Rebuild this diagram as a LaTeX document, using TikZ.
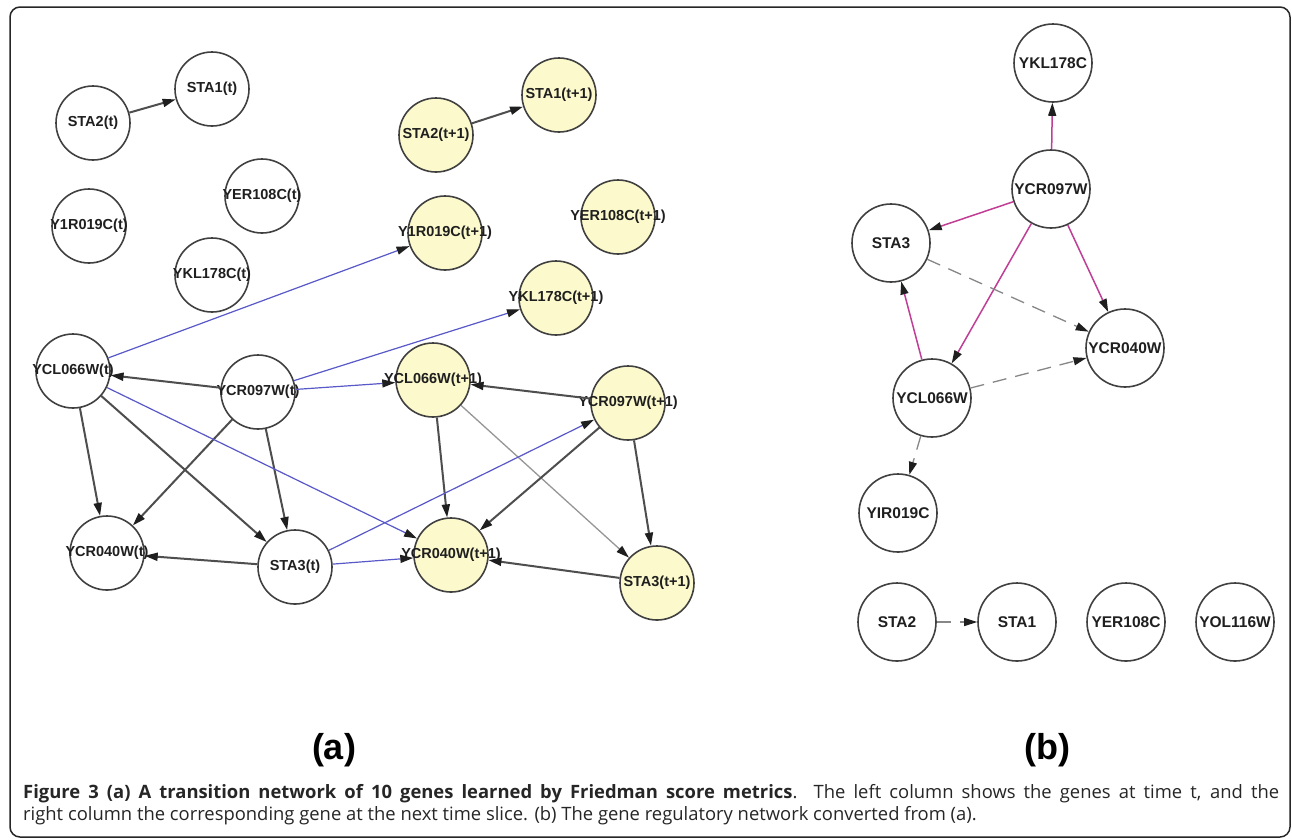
\documentclass[tikz,border=0pt]{standalone}
\usepackage{fontspec}
\setmainfont{Liberation Sans}
\newfontfamily\capfont{Open Sans}
\usetikzlibrary{arrows.meta}
\definecolor{nodeline}{RGB}{64,64,64}
\definecolor{yfill}{RGB}{252,250,204}
\definecolor{edgedark}{RGB}{78,78,78}
\definecolor{edgeblue}{RGB}{88,88,200}
\definecolor{edgemag}{RGB}{192,62,150}
\definecolor{edgelight}{RGB}{150,150,150}
\definecolor{edgedash}{RGB}{135,135,135}
\newcommand{\gl}[1]{\makebox[0pt][c]{#1}}
\begin{document}
\begin{tikzpicture}[x=1pt,y=-1pt,
  gene/.style={circle,draw=nodeline,line width=1.6pt,minimum size=74pt,inner sep=0pt,
    font=\bfseries\fontsize{14.5}{14.5}\selectfont,text=black!88},
  geney/.style={gene,fill=yfill},
  gener/.style={gene,minimum size=78pt,font=\bfseries\fontsize{15.5}{15.5}\selectfont},
  tip/.style={-{Triangle[length=13pt,width=8pt,color=black!88]}},
  dk/.style={tip,draw=edgedark,line width=2pt},
  bl/.style={tip,draw=edgeblue,line width=1.2pt},
  lg/.style={tip,draw=edgelight,line width=1.3pt},
  mg/.style={tip,draw=edgemag,line width=1.5pt},
  dsh/.style={tip,draw=edgedash,line width=1.3pt,dash pattern=on 14pt off 9pt},
  panel/.style={font=\bfseries\fontsize{36}{36}\selectfont,inner sep=0pt}
]
\useasboundingbox (0,0) rectangle (1292,839);
\fill[white] (0,0) rectangle (1292,839);
\draw[black!85,line width=1.5pt,rounded corners=10pt] (10,7) rectangle (1290,837);

% ---- panel (a), time t
\node[gene] (s2t)   at (93,123)  {\gl{STA2(t)}};
\node[gene] (s1t)   at (212,89)  {\gl{STA1(t)}};
\node[gene] (yert)  at (262,196) {\gl{YER108C(t)}};
\node[gene] (y1rt)  at (89,226)  {\gl{Y1R019C(t)}};
\node[gene] (yklt)  at (212,275) {\gl{YKL178C(t)}};
\node[gene] (yclt)  at (73,371)  {\gl{YCL066W(t)}};
\node[gene] (c97t)  at (258,392) {\gl{YCR097W(t)}};
\node[gene] (c40t)  at (107,553) {\gl{YCR040W(t)}};
\node[gene] (s3t)   at (295,567) {\gl{STA3(t)}};
% ---- panel (a), time t+1
\node[geney] (s2n)  at (436,135) {\gl{STA2(t+1)}};
\node[geney] (s1n)  at (559,95)  {\gl{STA1(t+1)}};
\node[geney] (y1rn) at (445,233) {\gl{Y1R019C(t+1)}};
\node[geney] (yern) at (618,217) {\gl{YER108C(t+1)}};
\node[geney] (ykln) at (556,298) {\gl{YKL178C(t+1)}};
\node[geney] (ycln) at (433,380) {\gl{YCL066W(t+1)}};
\node[geney] (c97n) at (628,403) {\gl{YCR097W(t+1)}};
\node[geney] (c40n) at (451,555) {\gl{YCR040W(t+1)}};
\node[geney] (s3n)  at (657,583) {\gl{STA3(t+1)}};

% edges within slices
\draw[dk] (s2t) -- (s1t);
\draw[dk] (s2n) -- (s1n);
\draw[dk] (c97t) -- (yclt);
\draw[dk] (yclt) -- (c40t);
\draw[dk] (yclt) -- (s3t);
\draw[dk] (c97t) -- (c40t);
\draw[dk] (c97t) -- (s3t);
\draw[dk] (s3t) -- (c40t);
\draw[dk] (c97n) -- (ycln);
\draw[dk] (ycln) -- (c40n);
\draw[lg] (ycln) -- (s3n);
\draw[dk] (c97n) -- (c40n);
\draw[dk] (c97n) -- (s3n);
\draw[dk] (s3n) -- (c40n);
% transition edges
\draw[bl] (yclt) -- (y1rn);
\draw[bl] (c97t) -- (ykln);
\draw[bl] (c97t) -- (ycln);
\draw[bl] (yclt) -- (c40n);
\draw[bl] (s3t) -- (c97n);
\draw[bl] (s3t) -- (c40n);

% ---- panel (b)
\node[gener] (rykl)  at (1053,63)  {\gl{YKL178C}};
\node[gener] (rc97)  at (1051,189) {\gl{YCR097W}};
\node[gener] (rs3)   at (891,243)  {\gl{STA3}};
\node[gener] (rc40)  at (1125,348) {\gl{YCR040W}};
\node[gener] (rycl)  at (932,398)  {\gl{YCL066W}};
\node[gener] (ryir)  at (898,513)  {\gl{YIR019C}};
\node[gener] (rs2)   at (897,622)  {\gl{STA2}};
\node[gener] (rs1)   at (1017,622) {\gl{STA1}};
\node[gener] (ryer)  at (1126,622) {\gl{YER108C}};
\node[gener] (ryol)  at (1235,622) {\gl{YOL116W}};

\draw[mg] (rc97) -- (rykl);
\draw[mg] (rc97) -- (rs3);
\draw[mg] (rc97) -- (rycl);
\draw[mg] (rc97) -- (rc40);
\draw[mg] (rycl) -- (rs3);
\draw[dsh] (rs3) -- (rc40);
\draw[dsh] (rycl) -- (rc40);
\draw[dsh] (rycl) -- (ryir);
\draw[dsh] (rs2) -- (rs1);

% ---- panel labels
\node[panel] (la) at (334,750) {(a)};
\node[panel] (lb) at (1047,750) {(b)};

% ---- caption
\node[anchor=north west,text width=1256pt,align=justify,inner sep=0pt,
  font=\capfont\fontsize{18.4}{22}\selectfont,text=black!85] (cap) at (23,784)
  {\textbf{Figure 3 (a) A transition network of 10 genes learned by Friedman score metrics}. The left column shows the genes at time t, and the\linebreak right column the corresponding gene at the next time slice. (b) The gene regulatory network converted from (a).};
\end{tikzpicture}
\end{document}
